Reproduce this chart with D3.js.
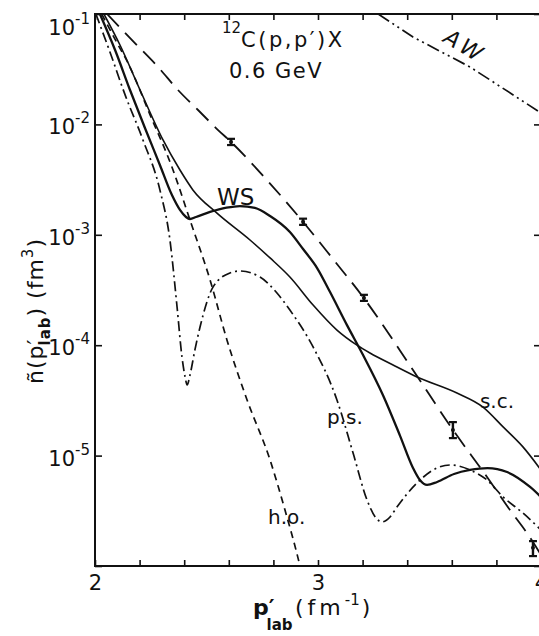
<!DOCTYPE html>
<html>
<head>
<meta charset="utf-8">
<script src="https://cdn.jsdelivr.net/npm/d3@7"></script>
<style>
body{margin:0;background:#fff;}
text{font-family:"DejaVu Sans",sans-serif;fill:#111;}
</style>
</head>
<body>
<div id="chart"></div>
<script>
// axis ticks
var xTicks = [2, 2.2, 2.4, 2.6, 2.8, 3, 3.2, 3.4, 3.6, 3.8, 4];
var xTickLabels = [2, 3, 4];
var yTicks = [1e-1, 1e-2, 1e-3, 1e-4, 1e-5, 1e-6];
var yTickExp = ["-1", "-2", "-3", "-4", "-5"];

// curves, [p'lab, n]
var ws = [[2.022,1.0e-1],[2.090,4.72e-2],[2.157,2.05e-2],[2.224,9.27e-3],[2.291,4.29e-3],
  [2.345,2.29e-3],[2.381,1.68e-3],[2.408,1.45e-3],[2.426,1.39e-3],[2.453,1.45e-3],
  [2.516,1.61e-3],[2.590,1.76e-3],[2.650,1.82e-3],[2.717,1.75e-3],[2.785,1.48e-3],
  [2.874,1.06e-3],[2.933,7.43e-4],[2.996,5.00e-4],[3.054,3.03e-4],[3.130,1.52e-4],
  [3.202,8.15e-5],[3.291,3.54e-5],[3.368,1.51e-5],[3.426,7.73e-6],[3.457,6.01e-6],
  [3.489,5.42e-6],[3.534,5.77e-6],[3.610,6.81e-6],[3.682,7.41e-6],[3.760,7.7e-6],
  [3.848,7.10e-6],[3.951,5.20e-6],[4.0,4.22e-6]];
var sc = [[2.040,1.0e-1],[2.112,5.24e-2],[2.202,2.05e-2],[2.305,7.23e-3],[2.381,3.86e-3],
  [2.439,2.55e-3],[2.547,1.57e-3],[2.695,8.97e-4],[2.785,6.17e-4],[2.874,4.15e-4],
  [2.978,2.31e-4],[3.085,1.37e-4],[3.175,1.00e-4],[3.233,8.49e-5],[3.345,6.49e-5],
  [3.444,5.16e-5],[3.623,3.69e-5],[3.740,2.75e-5],[3.830,1.82e-5],[3.919,1.20e-5],
  [4.0,7.41e-6]];
var ps = [[2.004,1.0e-1],[2.067,4.53e-2],[2.135,1.85e-2],[2.215,7.23e-3],[2.291,2.55e-3],
  [2.336,8.97e-4],[2.368,2.22e-4],[2.390,7.82e-5],[2.404,5.16e-5],[2.413,4.36e-5],
  [2.426,5.37e-5],[2.448,9.06e-5],[2.471,1.46e-4],[2.529,3.36e-4],[2.605,4.51e-4],
  [2.650,4.70e-4],[2.740,4.15e-4],[2.816,2.97e-4],[2.874,2.08e-4],[2.978,9.64e-5],
  [3.085,3.19e-5],[3.157,1.06e-5],[3.220,3.96e-6],[3.260,2.72e-6],[3.287,2.51e-6],
  [3.323,2.78e-6],[3.354,3.42e-6],[3.444,5.65e-6],[3.534,7.73e-6],[3.592,8.22e-6],
  [3.682,7.41e-6],[3.758,6.01e-6],[3.830,4.22e-6],[3.919,3.02e-6],[4.0,2.12e-6]];
var ho = [[2.030,1.0e-1],[2.099,5.46e-2],[2.148,3.60e-2],[2.247,1.22e-2],[2.345,4.11e-3],
  [2.426,1.36e-3],[2.516,3.90e-4],[2.592,1.11e-4],[2.682,3.19e-5],[2.785,9.12e-6],
  [2.852,3.21e-6],[2.919,1.0e-6],[2.930,8.0e-7]];
var fit = [[2.054,1.0e-1],[2.179,5.46e-2],[2.283,3.31e-2],[2.372,2.05e-2],[2.462,1.35e-2],
  [2.552,8.89e-3],[2.610,6.93e-3],[2.771,3.13e-3],[2.933,1.31e-3],[3.067,6.04e-4],
  [3.202,2.73e-4],[3.426,5.96e-5],[3.605,1.71e-5],[3.758,6.40e-6],[3.861,3.21e-6],
  [3.937,1.99e-6],[4.0,1.26e-6]];
var aw = [[3.270,1.0e-1],[3.426,6.19e-2],[3.682,3.31e-2],[4.0,1.27e-2]];

// data points with error bars
var expP = [2.610, 2.933, 3.206, 3.605, 3.964];
var expN = [6.93e-3, 1.31e-3, 2.68e-4, 1.71e-5, 1.46e-6];
var expLo = [6.5e-3, 1.23e-3, 2.52e-4, 1.44e-5, 1.23e-6];
var expHi = [7.4e-3, 1.40e-3, 2.86e-4, 2.01e-5, 1.68e-6];

var width = 539, height = 636;
var svg = d3.select('#chart').append('svg')
    .attr('width', width)
    .attr('height', height);

var x = d3.scaleLinear().domain([2, 4]).range([95, 541]);
var y = d3.scaleLog().domain([1e-6, 1e-1]).range([566, 14]);

svg.append('clipPath').attr('id', 'clip')
    .append('rect')
    .attr('x', x(2)).attr('y', y(1e-1))
    .attr('width', x(4) - x(2)).attr('height', y(1e-6) - y(1e-1));

// axes, ticks pointing inward
var bottom = svg.append('g')
    .attr('transform', 'translate(0,' + y(1e-6) + ')')
    .call(d3.axisBottom(x).tickValues(xTicks).tickSize(-6).tickSizeOuter(0).tickPadding(9)
        .tickFormat(function(d){ return xTickLabels.indexOf(Math.round(d*10)/10) >= 0 ? d : ""; }));
svg.append('g')
    .attr('transform', 'translate(0,' + y(1e-1) + ')')
    .call(d3.axisTop(x).tickValues(xTicks).tickSize(-6).tickSizeOuter(0).tickFormat(""));
svg.append('g')
    .attr('transform', 'translate(' + x(2) + ',0)')
    .call(d3.axisLeft(y).tickValues(yTicks).tickSize(-7).tickSizeOuter(0).tickFormat(""));
svg.append('g')
    .attr('transform', 'translate(' + x(4) + ',0)')
    .call(d3.axisRight(y).tickValues(yTicks).tickSize(-7).tickSizeOuter(0).tickFormat(""));

svg.selectAll('.domain').remove();
svg.selectAll('.tick line').attr('stroke', '#111').attr('stroke-width', 1.6);
bottom.selectAll('text')
    .style('font-size', '21px')
    .style('font-family', '"DejaVu Sans",sans-serif')
    .attr('fill', '#111');

svg.append('rect')
    .attr('x', x(2)).attr('y', y(1e-1))
    .attr('width', x(4) - x(2)).attr('height', y(1e-6) - y(1e-1))
    .attr('fill', 'none').attr('stroke', '#111').attr('stroke-width', 2);

// y tick labels 10^-k
yTickExp.forEach(function(e, i){
    var t = svg.append('text')
        .attr('x', 90)
        .attr('y', i == 0 ? y(yTicks[i]) + 21 : y(yTicks[i]) + 10)
        .attr('text-anchor', 'end')
        .style('font-size', '21px');
    t.append('tspan').text('10');
    t.append('tspan').attr('dy', -11).style('font-size', '15px').text(e);
});

// curves
var line = d3.line()
    .x(function(d){ return x(d[0]); })
    .y(function(d){ return y(d[1]); })
    .curve(d3.curveMonotoneX);

var plot = svg.append('g').attr('clip-path', 'url(#clip)');

var curves = [
    {data: ws, dash: null, w: 2.3},
    {data: sc, dash: null, w: 1.6},
    {data: ps, dash: '10,4,2,4', w: 1.7},
    {data: ho, dash: '7,5', w: 1.7},
    {data: fit, dash: '17,9', w: 1.8}
];
curves.forEach(function(c){
    plot.append('path')
        .attr('d', line(c.data))
        .attr('fill', 'none')
        .attr('stroke', '#111')
        .attr('stroke-width', c.w)
        .attr('stroke-dasharray', c.dash);
});
plot.append('path')
    .attr('d', d3.line().x(function(d){ return x(d[0]); }).y(function(d){ return y(d[1]); })(aw))
    .attr('fill', 'none')
    .attr('stroke', '#111')
    .attr('stroke-width', 1.7)
    .attr('stroke-dasharray', '13,4,2,4,2,4');

// error bars
var eb = plot.selectAll('g.err')
    .data(expP)
    .enter()
    .append('g')
    .attr('class', 'err');
eb.append('line')
    .attr('x1', function(d){ return x(d); })
    .attr('x2', function(d){ return x(d); })
    .attr('y1', function(d, i){ return y(expLo[i]); })
    .attr('y2', function(d, i){ return y(expHi[i]); })
    .attr('stroke', '#111').attr('stroke-width', 2.4);
[expLo, expHi].forEach(function(arr){
    eb.append('line')
        .attr('x1', function(d){ return x(d) - 4; })
        .attr('x2', function(d){ return x(d) + 4; })
        .attr('y1', function(d, i){ return y(arr[i]); })
        .attr('y2', function(d, i){ return y(arr[i]); })
        .attr('stroke', '#111').attr('stroke-width', 2.2);
});
eb.append('circle')
    .attr('cx', function(d){ return x(d); })
    .attr('cy', function(d, i){ return y(expN[i]); })
    .attr('r', 2).attr('fill', '#111');

// curve labels
svg.append('text').attr('x', x(2.547)).attr('y', y(1.86e-3))
    .style('font-size', '23px').text('WS');
svg.append('text').attr('x', x(3.726)).attr('y', y(2.70e-5))
    .style('font-size', '20px').text('s.c.');
svg.append('text').attr('x', x(3.040)).attr('y', y(1.93e-5))
    .style('font-size', '20px').text('p.s.');
svg.append('text').attr('x', x(2.776)).attr('y', y(2.40e-6))
    .style('font-size', '20px').text('h.o.');
svg.append('text')
    .attr('transform', 'translate(' + x(3.659) + ',' + y(5.13e-2) + ') rotate(31)')
    .attr('text-anchor', 'middle')
    .attr('dy', '0.35em')
    .style('font-size', '22px')
    .style('font-style', 'italic')
    .style('letter-spacing', '4px')
    .text('AW');

// reaction title
var title = svg.append('text').attr('x', 222).attr('y', 47).style('font-size', '21px');
title.append('tspan').attr('dy', -14).style('font-size', '15px').text('12');
title.append('tspan').attr('dy', 14).style('letter-spacing', '2.5px').text("C(p,p′)X");
svg.append('text').attr('x', 229).attr('y', 78)
    .style('font-size', '21px').style('letter-spacing', '1.5px')
    .text('0.6 GeV');

// x axis title
var xl = svg.append('text').attr('x', 253).attr('y', 615).style('font-size', '22px');
xl.append('tspan').style('font-weight', 'bold').text('p′');
xl.append('tspan').attr('dx', -8).attr('dy', 15).style('font-size', '15px')
    .style('font-weight', 'bold').text('lab');
xl.append('tspan').attr('x', 295).attr('dy', -15).style('letter-spacing', '4px').text('(fm');
xl.append('tspan').attr('dy', -10).style('font-size', '15px').text('-1');
xl.append('tspan').attr('dy', 10).attr('dx', 2).text(')');

// y axis title
var yl = svg.append('text')
    .attr('transform', 'translate(43,384) rotate(-90)')
    .style('font-size', '22px')
    .style('letter-spacing', '1px');
yl.append('tspan').text('ñ(p′');
yl.append('tspan').attr('dx', -7).attr('dy', 7).style('font-size', '15px')
    .style('font-weight', 'bold').text('lab');
yl.append('tspan').attr('dy', -7).text(') (fm');
yl.append('tspan').attr('dy', -10).style('font-size', '15px').text('3');
yl.append('tspan').attr('dy', 10).text(')');
</script>
</body>
</html>
